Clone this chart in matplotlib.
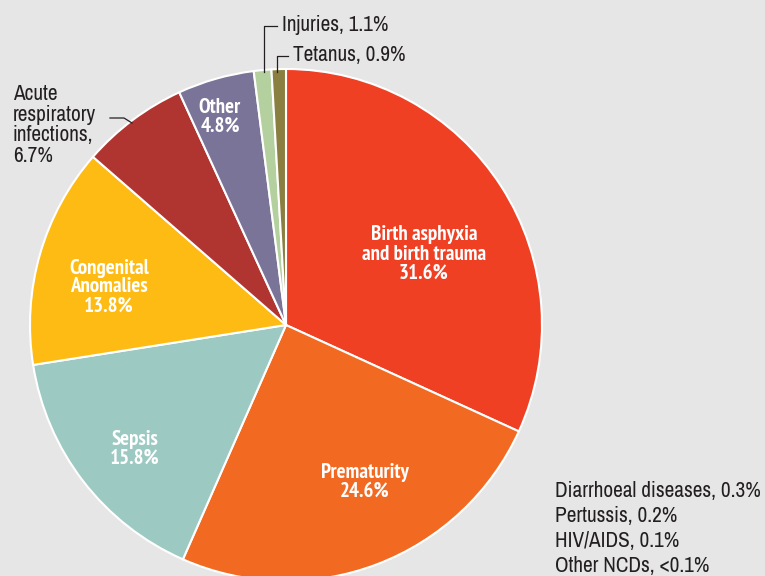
import matplotlib.pyplot as plt
from matplotlib import font_manager

# slices drawn, clockwise from 12 o'clock
labels = ["Birth asphyxia\nand birth trauma", "Prematurity", "Sepsis",
          "Congenital\nAnomalies", "Acute respiratory infections",
          "Other", "Injuries", "Tetanus"]
shares = [31.6, 24.6, 15.8, 13.8, 6.7, 4.8, 1.1, 0.9]
colors = ["#EF4024", "#F26A22", "#9DC9C3", "#FDBB13", "#B03530",
          "#7B7499", "#B4D09E", "#8A7F40"]

# causes too small to show as a slice
minor_labels = ["Diarrhoeal diseases, 0.3%", "Pertussis, 0.2%",
                "HIV/AIDS, 0.1%", "Other NCDs, <0.1%"]


def weight_num(w):
    if isinstance(w, (int, float)):
        return w
    return font_manager.weight_dict.get(w, 400)


def pick_font(target):
    # the original uses a condensed sans, look for a narrow face on disk
    cands = []
    for f in font_manager.fontManager.ttflist:
        tag = (f.name + " " + f.fname).lower()
        if ("narrow" in tag or "condensed" in tag or f.stretch == "condensed") \
                and f.style == "normal":
            pref = 0 if "narrow" in tag else (1 if "roboto" in tag else 2)
            cands.append((pref, abs(weight_num(f.weight) - target), f.fname))
    if not cands:
        return None
    cands.sort()
    return cands[0][2]


reg_file = pick_font(400)
bold_file = pick_font(700)
if reg_file:
    reg = font_manager.FontProperties(fname=reg_file, size=15.3)
    bold = font_manager.FontProperties(fname=bold_file, size=15)
else:
    reg = font_manager.FontProperties(family="Liberation Sans", size=12.5)
    bold = font_manager.FontProperties(family="Liberation Sans", weight="bold", size=12)

W, H = 765, 576
fig = plt.figure(figsize=(W / 100, H / 100), dpi=100)
fig.patch.set_facecolor("#E6E6E6")
ax = fig.add_axes([0, 0, 1, 1])
ax.set_facecolor("#E6E6E6")

cx, cy, r = 286, H - 325, 256
ax.pie(shares, colors=colors, startangle=90, counterclock=False,
       center=(cx, cy), radius=r,
       wedgeprops=dict(edgecolor="white", linewidth=1.5))
ax.set_xlim(0, W)
ax.set_ylim(0, H)
ax.set_aspect("equal")
ax.axis("off")

# labels inside the slices (pixel positions, y from top)
inside = [(424, 254, "Birth asphyxia\nand birth trauma\n31.6%"),
          (365, 482, "Prematurity\n24.6%"),
          (135, 449, "Sepsis\n15.8%"),
          (109, 287, "Congenital\nAnomalies\n13.8%"),
          (220, 117, "Other\n4.8%")]
for x, y, t in inside:
    ax.text(x, H - y, t, color="white", fontproperties=bold,
            ha="center", va="center", linespacing=1.0)

ink = "#231F20"

# Injuries / Tetanus callouts
ax.plot([264, 264, 277], [H - 72, H - 26, H - 26], color=ink, lw=0.9)
ax.text(282, H - 25, f"{labels[6]}, {shares[6]}%", fontproperties=reg,
        color=ink, va="center")
ax.plot([277, 277, 288], [H - 72, H - 56, H - 56], color=ink, lw=0.9)
ax.text(293, H - 55, f"{labels[7]}, {shares[7]}%", fontproperties=reg,
        color=ink, va="center")

# Acute respiratory infections callout
ax.plot([110, 124, 132], [H - 118, H - 118, H - 123], color=ink, lw=0.9)
ax.text(13, H - 125, "Acute\nrespiratory\ninfections,\n" + f"{shares[4]}%",
        ha="left", va="center", fontproperties=reg, color=ink, linespacing=1.05)

# minor causes listed bottom right
for i, t in enumerate(minor_labels):
    ax.text(555, H - (491 + 25 * i), t, ha="left", va="center",
            fontproperties=reg, color=ink)

fig.savefig("out.png", dpi=100, facecolor=fig.get_facecolor())
